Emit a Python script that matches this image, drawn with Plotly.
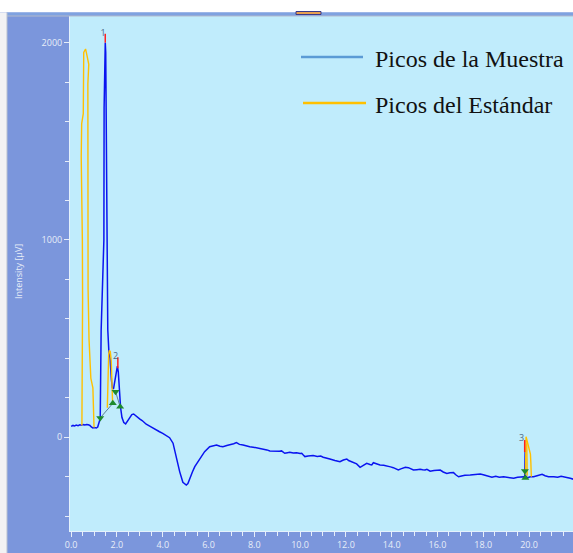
import plotly.graph_objects as go

# ---------------- data ----------------
# Sample chromatogram (Picos de la Muestra): retention time [min], intensity [µV]
sample_t = [0.00, 0.08, 0.15, 0.22, 0.30, 0.38, 0.45, 0.52, 0.60, 0.68, 0.75, 0.82, 0.88, 0.95,
            1.02, 1.10, 1.16, 1.22, 1.27, 1.31, 1.37, 1.43, 1.44, 1.47, 1.49, 1.51, 1.53, 1.56,
            1.60, 1.65, 1.70, 1.76, 1.80, 1.85, 1.90, 1.96, 2.02, 2.06, 2.12, 2.16, 2.22, 2.30,
            2.38, 2.45, 2.55, 2.65, 2.73, 2.85, 2.99, 3.10, 3.28, 3.45, 3.57, 3.70, 3.86, 4.00,
            4.16, 4.30, 4.45, 4.60, 4.74, 4.88, 5.03, 5.10, 5.18, 5.30, 5.40, 5.61, 5.83, 6.05,
            6.20, 6.35, 6.50, 6.63, 6.80, 6.93, 7.10, 7.22, 7.35, 7.51, 7.65, 7.80, 7.95, 8.10,
            8.25, 8.39, 8.55, 8.68, 8.85, 8.97, 9.10, 9.19, 9.33, 9.45, 9.55, 9.70, 9.85, 10.00,
            10.07, 10.14, 10.21, 10.35, 10.57, 10.75, 10.90, 11.01, 11.15, 11.30, 11.52, 11.74,
            11.89, 12.04, 12.12, 12.25, 12.40, 12.47, 12.62, 12.75, 12.91, 13.05, 13.13, 13.20,
            13.35, 13.49, 13.65, 13.79, 13.95, 14.07, 14.20, 14.29, 14.40, 14.51, 14.60, 14.73,
            14.85, 14.95, 15.10, 15.24, 15.35, 15.46, 15.54, 15.68, 15.85, 16.00, 16.12, 16.25,
            16.41, 16.55, 16.70, 16.80, 16.92, 17.05, 17.20, 17.43, 17.60, 17.87, 18.00, 18.15,
            18.38, 18.55, 18.70, 18.89, 19.05, 19.20, 19.33, 19.50, 19.65, 19.77, 19.81, 19.83,
            19.85, 19.95, 20.05, 20.20, 20.35, 20.57, 20.70, 20.85, 21.08, 21.25, 21.40, 21.66,
            21.80, 21.95]
sample_v = [55, 60, 57, 62, 59, 63, 61, 64, 62, 65, 63, 60, 52, 47,
            49, 47, 52, 75, 95, 540, 800, 1000, 1670, 1950, 2000, 1950, 1670, 1000,
            545, 430, 400, 290, 250, 245, 280, 330, 360, 330, 200, 150, 100, 75,
            68, 80, 100, 115, 118, 105, 93, 85, 66, 55, 46, 38, 28, 20,
            8, -2, -30, -106, -174, -228, -242, -235, -208, -175, -149, -115, -73, -48,
            -42, -39, -45, -48, -42, -39, -33, -27, -36, -39, -44, -48, -50, -53,
            -56, -59, -64, -69, -71, -73, -71, -69, -81, -78, -76, -80, -78, -82,
            -81, -90, -98, -95, -93, -97, -95, -101, -104, -110, -118, -124,
            -115, -110, -118, -124, -130, -135, -152, -142, -132, -138, -140, -129,
            -136, -140, -142, -144, -150, -154, -160, -166, -160, -157, -152, -154,
            -160, -166, -164, -162, -165, -166, -162, -172, -168, -165, -166, -176,
            -183, -180, -179, -190, -200, -196, -192, -191, -188, -186, -190, -196,
            -203, -198, -202, -200, -204, -206, -208, -203, -200, -200, -202, -75,
            -200, -205, -200, -200, -195, -188, -195, -200, -200, -203, -198, -203,
            -208, -213]

# Standard peaks (Picos del Estándar), drawn as separate segments
std1_t = [0.47, 0.49, 0.50, 0.49, 0.47, 0.44, 0.46, 0.53, 0.55, 0.63, 0.70, 0.77, 0.73, 0.72,
          0.74, 0.78, 0.82, 0.86, 0.95, 0.97, 1.00]
std1_v = [60, 300, 700, 1000, 1250, 1420, 1590, 1640, 1950, 1968, 1930, 1890, 1790, 1200,
          750, 500, 400, 300, 250, 150, 50]
std2_t = [1.58, 1.60, 1.64, 1.67, 1.71, 1.75, 1.78, 1.81]
std2_v = [150, 290, 420, 440, 435, 390, 300, 180]
std3_t = [19.84, 19.85, 19.87, 19.92, 19.97, 20.03, 20.06, 20.08, 20.10, None, 19.90, 19.92]
std3_v = [-190, -30, 3, -20, -45, -65, -85, -130, -200, None, -30, -195]

# Peak apex markers and labels
peak_labels = ["1", "2", "3"]
peak_t = [1.49, 2.04, 19.81]
peak_apex = [2000, 350, -75]
peak_mark_top = [2045, 405, -14]
label_t = [1.39, 1.94, 19.67]
label_v = [2043, 409, -9]

# Integration limits (green triangles) and baselines
lim_down_t = [1.27, 1.94, 19.82]
lim_down_v = [98, 231, -171]
lim_up_t = [1.82, 2.14, 19.84]
lim_up_v = [172, 155, -206]
base_t = [1.27, 1.82, None, 1.94, 2.14]
base_v = [98, 172, None, 231, 155]

# Axis ticks
x_tick_vals = [0, 2, 4, 6, 8, 10, 12, 14, 16, 18, 20, 22]
x_tick_text = ["0.0", "2.0", "4.0", "6.0", "8.0", "10.0", "12.0", "14.0", "16.0", "18.0", "20.0", "22"]
y_tick_vals = [0, 1000, 2000]
y_tick_text = ["0", "1000", "2000"]
y_title = "Intensity [µV]"
legend_names = ["Picos de la Muestra", "Picos del Estándar"]

# ---------------- styles ----------------
PANEL = "#7B96DC"
PLOTBG = "#C0ECFC"
TICKCOL = "#E8EEF8"
BLUE = "#0A14F0"
YELLOW = "#FFC000"

W, H = 573, 553
ML, MR, MT, MB = 70, 0, 16, 22
PW, PH = W - ML - MR, H - MT - MB


def px_x(p):
    return (p - ML) / PW


def px_y(p):
    return 1 - (p - MT) / PH


fig = go.Figure()

fig.add_trace(go.Scatter(x=sample_t, y=sample_v, mode="lines",
                         line=dict(color=BLUE, width=1.5), showlegend=False, hoverinfo="skip"))
for tt, vv in [(std1_t, std1_v), (std2_t, std2_v), (std3_t, std3_v)]:
    fig.add_trace(go.Scatter(x=tt, y=vv, mode="lines", connectgaps=False,
                             line=dict(color=YELLOW, width=1.4), showlegend=False, hoverinfo="skip"))

# baselines
fig.add_trace(go.Scatter(x=base_t, y=base_v, mode="lines", connectgaps=False,
                         line=dict(color="#5E7E98", width=1), showlegend=False, hoverinfo="skip"))
# apex markers (red)
for i in range(len(peak_t)):
    fig.add_trace(go.Scatter(x=[peak_t[i], peak_t[i]], y=[peak_apex[i], peak_mark_top[i]], mode="lines",
                             line=dict(color="#FF2020", width=1.5), showlegend=False, hoverinfo="skip"))
# integration limit triangles
fig.add_trace(go.Scatter(x=lim_down_t, y=lim_down_v, mode="markers",
                         marker=dict(symbol="triangle-down", size=7, color="#1E8A2E"),
                         showlegend=False, hoverinfo="skip"))
fig.add_trace(go.Scatter(x=lim_up_t, y=lim_up_v, mode="markers",
                         marker=dict(symbol="triangle-up", size=7, color="#1E8A2E"),
                         showlegend=False, hoverinfo="skip"))
# peak labels
fig.add_trace(go.Scatter(x=label_t, y=label_v, mode="text", text=peak_labels,
                         textfont=dict(family="Open Sans", size=9, color="#4E6A86"),
                         showlegend=False, hoverinfo="skip"))

tick_font = dict(family="Open Sans", size=9, color=TICKCOL)

fig.update_layout(
    width=W, height=H,
    margin=dict(l=ML, r=MR, t=MT, b=MB, pad=0),
    paper_bgcolor=PANEL, plot_bgcolor=PLOTBG,
    showlegend=False,
    xaxis=dict(range=[-0.05, 21.92], tickmode="array", tickvals=x_tick_vals, ticktext=x_tick_text,
               ticks="outside", ticklen=5, tickwidth=1, tickcolor=TICKCOL, tickfont=tick_font,
               showline=True, linecolor="#E4F2FC", linewidth=1, showgrid=False, zeroline=False,
               minor=dict(tickmode="linear", tick0=0, dtick=0.5, ticks="outside", ticklen=4,
                          tickcolor=TICKCOL, showgrid=False)),
    yaxis=dict(range=[-475, 2135], tickmode="array", tickvals=y_tick_vals, ticktext=y_tick_text,
               ticks="outside", ticklen=5, tickwidth=1, tickcolor=TICKCOL, tickfont=tick_font,
               showline=True, linecolor="#E4F2FC", linewidth=1, showgrid=False, zeroline=False,
               minor=dict(tickmode="linear", tick0=0, dtick=200, ticks="outside", ticklen=4,
                          tickcolor=TICKCOL, showgrid=False)),
)

shapes = [
    # white header strip
    dict(type="rect", xref="paper", yref="paper", x0=px_x(0), x1=px_x(W), y0=px_y(12.5), y1=px_y(0),
         fillcolor="#FFFFFF", line=dict(width=0), layer="above"),
    # blue header line
    dict(type="rect", xref="paper", yref="paper", x0=px_x(6), x1=px_x(W), y0=px_y(15.5), y1=px_y(12.5),
         fillcolor="#7FA2E0", line=dict(width=0), layer="above"),
    dict(type="rect", xref="paper", yref="paper", x0=px_x(6), x1=px_x(W), y0=px_y(16.5), y1=px_y(15.5),
         fillcolor="#B4BCCC", line=dict(width=0), layer="above"),
    # left light strip
    dict(type="rect", xref="paper", yref="paper", x0=px_x(0), x1=px_x(7), y0=px_y(H), y1=px_y(12.5),
         fillcolor="#F2F2F4", line=dict(width=0), layer="above"),
    dict(type="line", xref="paper", yref="paper", x0=px_x(7), x1=px_x(7), y0=px_y(H), y1=px_y(12.5),
         line=dict(color="#B8C0D0", width=1), layer="above"),
    # small orange tab
    dict(type="rect", xref="paper", yref="paper", x0=px_x(296), x1=px_x(321), y0=px_y(14.5), y1=px_y(11.5),
         fillcolor="#E8A050", line=dict(color="#3A3A8A", width=1), layer="above"),
    # legend samples
    dict(type="line", xref="paper", yref="paper", x0=px_x(301), x1=px_x(363), y0=px_y(57), y1=px_y(57),
         line=dict(color="#5B9BD5", width=2.5), layer="above"),
    dict(type="line", xref="paper", yref="paper", x0=px_x(303), x1=px_x(366), y0=px_y(103), y1=px_y(103),
         line=dict(color=YELLOW, width=2.5), layer="above"),
]
fig.update_layout(shapes=shapes)

annotations = [
    dict(text=legend_names[0], xref="paper", yref="paper", x=px_x(373), y=px_y(59),
         xanchor="left", yanchor="middle", showarrow=False,
         font=dict(family="Liberation Serif", size=24, color="#111111")),
    dict(text=legend_names[1], xref="paper", yref="paper", x=px_x(373), y=px_y(105),
         xanchor="left", yanchor="middle", showarrow=False,
         font=dict(family="Liberation Serif", size=24, color="#111111")),
    dict(text=y_title, xref="paper", yref="paper", x=px_x(18), y=px_y(272),
         xanchor="center", yanchor="middle", textangle=-90, showarrow=False,
         font=dict(family="Open Sans", size=9, color=TICKCOL)),
]
fig.update_layout(annotations=annotations)

fig.write_html("out.html", config={"displayModeBar": False},
               post_script="document.body.style.margin='0px';document.body.style.overflow='hidden';")
